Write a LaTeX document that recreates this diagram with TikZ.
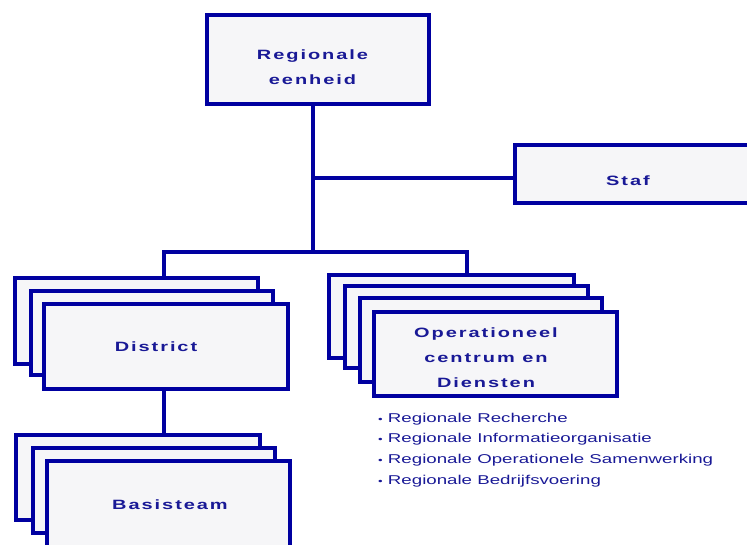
\documentclass[tikz,border=0pt]{standalone}
\usepackage{fontspec}
\setmainfont{Liberation Sans}[FakeStretch=1.46]
\newfontfamily\titlefont{Liberation Sans}[FakeStretch=1.48,LetterSpace=14.4]
\definecolor{linecol}{RGB}{0,0,160}
\definecolor{textcol}{RGB}{25,25,150}
\definecolor{cardfill}{RGB}{246,246,248}

% a card given by its outer edges: name, left, top, right, bottom
\newcommand\card[5]{%
  \node[card, minimum width={#4-#2-4}, minimum height={#5-#3-4}]
    (#1) at ({(#2+#4)/2},{(#3+#5)/2}) {};}

\begin{document}
\begin{tikzpicture}[x=1pt,y=-1pt,
  card/.style={draw=linecol, fill=cardfill, line width=4pt, inner sep=0pt,
    outer sep=0pt, line join=miter},
  wire/.style={draw=linecol, line width=4.5pt, line join=miter},
  title/.style={text=textcol, align=center, inner sep=0pt,
    font=\titlefont\bfseries\fontsize{13.5}{25}\selectfont},
  item/.style={text=textcol, anchor=base west, inner sep=0pt,
    font=\fontsize{12.8}{15}\selectfont}]
\useasboundingbox (0,0) rectangle (747,545);

% top unit and staff
\card{reg}{205}{13}{431}{106}
\card{staf}{513}{143}{765}{205}

% stacked district cards
\card{d1}{13}{276}{260}{366}
\card{d2}{29}{289}{275}{377}
\card{d3}{42}{302}{290}{391}

% stacked operational cards
\card{o1}{327}{273}{576}{360}
\card{o2}{343}{284}{590}{370}
\card{o3}{358}{296}{604}{384}
\card{o4}{372}{310}{619}{398}

% stacked base team cards
\card{b1}{14}{433}{262}{522}
\card{b2}{31}{446}{277}{535}
\card{b3}{45}{459}{292}{565}

% connectors
\coordinate (split) at (313,252);
\coordinate (dj) at (164,252);
\coordinate (oj) at (467,252);
\draw[wire] (reg.south -| split) -- (split);
\draw[wire] ([yshift=-4pt]staf.west) -- ([yshift=-4pt]staf.west -| split);
\draw[wire] (dj |- d1.north) -- (dj) -- (oj) -- (oj |- o1.north);
\draw[wire] (d3.south -| dj) -- (dj |- b1.north);

% labels
\node[title] (tReg) at (312.5,67.5) {Regionale\\eenheid};
\node[title] (tStaf) at (628,181) {Staf};
\node[title] (tDist) at (156,347) {District};
\node[title] (tOps) at (486,358) {Operationeel\\centrum en\\Diensten};
\node[title] (tBasis) at (170,505) {Basisteam};

% services of the operational centre
\node[item] (li1) at (378,422.5) {{\fontsize{9}{10}\selectfont•}\ Regionale Recherche};
\node[item] (li2) at (378,442.5) {{\fontsize{9}{10}\selectfont•}\ Regionale Informatieorganisatie};
\node[item] (li3) at (378,463.5) {{\fontsize{9}{10}\selectfont•}\ Regionale Operationele Samenwerking};
\node[item] (li4) at (378,484.5) {{\fontsize{9}{10}\selectfont•}\ Regionale Bedrijfsvoering};
\end{tikzpicture}
\end{document}
